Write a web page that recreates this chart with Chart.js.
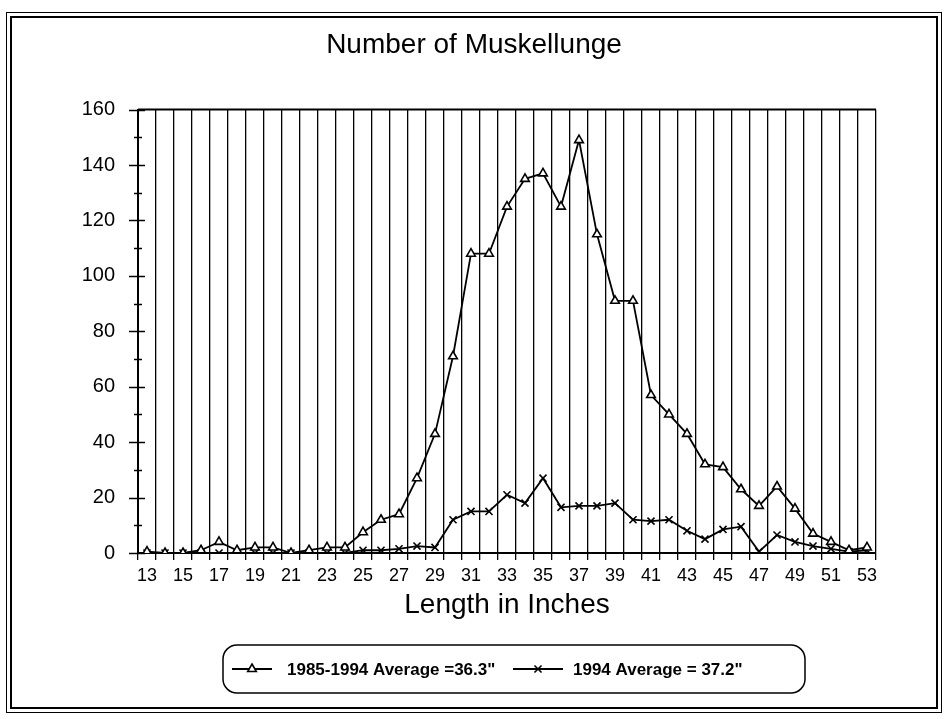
<!DOCTYPE html>
<html>
<head>
<meta charset="utf-8">
<title>Number of Muskellunge</title>
<script src="https://cdn.jsdelivr.net/npm/chart.js@4.4.1/dist/chart.umd.min.js"></script>
<style>
  html, body { margin: 0; padding: 0; background: #fff; }
  #wrap { width: 948px; height: 719px; }
</style>
</head>
<body>
<div id="wrap"><canvas id="muskyChart" width="948" height="719"></canvas></div>
<script>
// length classes (inches)
const lengths = [13, 14, 15, 16, 17, 18, 19, 20, 21, 22, 23, 24, 25, 26, 27, 28, 29, 30, 31, 32, 33,
                 34, 35, 36, 37, 38, 39, 40, 41, 42, 43, 44, 45, 46, 47, 48, 49, 50, 51, 52, 53];

// 1985-1994 average catch per length
const avg8594 = [0.5, 0, 0, 1, 4, 1, 2, 2, 0, 1, 2, 2, 7.5, 12, 14, 27, 43, 71, 108, 108, 125,
                 135, 137, 125, 149, 115, 91, 91, 57, 50, 43, 32, 31, 23, 17, 24, 16, 7, 4, 1, 2];

// 1994 catch per length
const y1994 = [0, 0, 0, 0, 0, 0, 0, 0, 0, 0, 0, 0, 1, 1, 1.5, 2.5, 2, 12, 15, 15, 21,
               18, 27, 16.5, 17, 17, 18, 12, 11.5, 12, 8, 5, 8.5, 9.5, 0.5, 6.5, 4, 2.5, 1.5, 0.5, 1];

const yTicks = [0, 20, 40, 60, 80, 100, 120, 140, 160];
const seriesNames = ['1985-1994 Average =36.3"', '1994 Average = 37.2"'];

const FONT = 'Arial, "Liberation Sans", Helvetica, sans-serif';

// white page + double frame
const framePlugin = {
  id: 'frame',
  beforeDraw(chart) {
    const ctx = chart.ctx;
    ctx.save();
    ctx.fillStyle = '#fff';
    ctx.fillRect(0, 0, chart.width, chart.height);
    ctx.strokeStyle = '#000';
    ctx.lineWidth = 1;
    ctx.strokeRect(6.5, 12.5, 935, 700);
    ctx.lineWidth = 2;
    ctx.strokeRect(11, 17, 926, 691);
    ctx.restore();
  }
};

// top border of plot, crossing tick marks on y axis, boxed legend
const decorPlugin = {
  id: 'decor',
  afterDraw(chart) {
    const ctx = chart.ctx;
    const area = chart.chartArea;
    const yScale = chart.scales.y;
    ctx.save();
    ctx.strokeStyle = '#000';
    ctx.lineWidth = 2;
    ctx.beginPath();
    ctx.moveTo(area.left, area.top);
    ctx.lineTo(area.right, area.top);
    ctx.stroke();

    ctx.lineWidth = 1.5;
    for (let v = yScale.min; v <= yScale.max; v += 10) {
      const py = Math.round(yScale.getPixelForValue(v)) + 0.5;
      const major = v % 20 === 0;
      ctx.beginPath();
      ctx.moveTo(area.left - (major ? 9 : 4), py);
      ctx.lineTo(area.left + (major ? 7 : 4), py);
      ctx.stroke();
    }

    // legend box
    const bx = 223, by = 645, bw = 582, bh = 48;
    ctx.lineWidth = 1.5;
    ctx.beginPath();
    ctx.roundRect(bx, by, bw, bh, 14);
    ctx.stroke();

    const ly = by + bh / 2;
    const items = [
      { x1: 232, x2: 272, text: 287 },
      { x1: 513, x2: 563, text: 573 }
    ];
    ctx.font = 'bold 17px ' + FONT;
    ctx.textBaseline = 'middle';
    chart.data.datasets.forEach((ds, i) => {
      const it = items[i];
      ctx.lineWidth = 1.8;
      ctx.beginPath();
      ctx.moveTo(it.x1, ly);
      ctx.lineTo(it.x2, ly);
      ctx.stroke();
      ctx.lineWidth = ds.pointBorderWidth;
      ctx.fillStyle = ds.pointBackgroundColor;
      Chart.helpers.drawPoint(ctx, {
        pointStyle: ds.pointStyle,
        radius: ds.pointRadius,
        rotation: 0,
        borderWidth: ds.pointBorderWidth
      }, (it.x1 + it.x2) / 2, ly);
      ctx.fillStyle = '#000';
      ctx.fillText(ds.label, it.text, ly + 1);
    });
    ctx.restore();
  }
};

new Chart(document.getElementById('muskyChart'), {
  type: 'line',
  data: {
    labels: lengths,
    datasets: [
      {
        label: seriesNames[0],
        data: avg8594,
        yAxisID: 'y',
        borderColor: '#000',
        borderWidth: 1.8,
        pointStyle: 'triangle',
        pointRadius: 5,
        pointBorderWidth: 1.6,
        pointBorderColor: '#000',
        pointBackgroundColor: '#fff',
        tension: 0
      },
      {
        label: seriesNames[1],
        data: y1994,
        yAxisID: 'y',
        borderColor: '#000',
        borderWidth: 1.8,
        pointStyle: 'crossRot',
        pointRadius: 5,
        pointBorderWidth: 1.6,
        pointBorderColor: '#000',
        pointBackgroundColor: '#000',
        tension: 0
      }
    ]
  },
  options: {
    responsive: false,
    animation: false,
    devicePixelRatio: 1,
    layout: { padding: { left: 20, right: 20, top: 28, bottom: 97 } },
    plugins: {
      legend: { display: false },
      tooltip: { enabled: false },
      title: {
        display: true,
        text: 'Number of Muskellunge',
        color: '#000',
        font: { family: FONT, size: 28, weight: 'normal' },
        padding: { top: 0, bottom: 48 }
      }
    },
    scales: {
      x: {
        type: 'category',
        offset: true,
        grid: {
          offset: true,
          color: '#000',
          lineWidth: 1.3,
          tickLength: 7,
          drawOnChartArea: true
        },
        border: { color: '#000', width: 2 },
        ticks: {
          autoSkip: false,
          maxRotation: 0,
          minRotation: 0,
          color: '#000',
          padding: 5,
          font: { family: FONT, size: 18 },
          callback: (v, i) => (lengths[i] % 2 === 1 ? String(lengths[i]) : '')
        },
        title: {
          display: true,
          text: 'Length in Inches',
          color: '#000',
          font: { family: FONT, size: 28 },
          padding: { top: 0, bottom: 0 }
        },
        afterFit: (scale) => { scale.height = 69; }
      },
      y: {
        min: 0,
        max: 160,
        afterBuildTicks: (scale) => { scale.ticks = yTicks.map(v => ({ value: v })); },
        grid: { display: true, drawOnChartArea: false, drawTicks: false },
        border: { color: '#000', width: 2 },
        ticks: {
          color: '#000',
          padding: 23,
          font: { family: FONT, size: 20 }
        },
        afterFit: (scale) => { scale.width = 118; }
      },
      // empty right-hand spacer so the plot ends where the reference does
      yRight: {
        position: 'right',
        min: 0,
        max: 160,
        grid: { display: false },
        border: { display: false },
        ticks: { display: false },
        afterFit: (scale) => { scale.width = 52; }
      }
    }
  },
  plugins: [framePlugin, decorPlugin]
});
</script>
</body>
</html>
